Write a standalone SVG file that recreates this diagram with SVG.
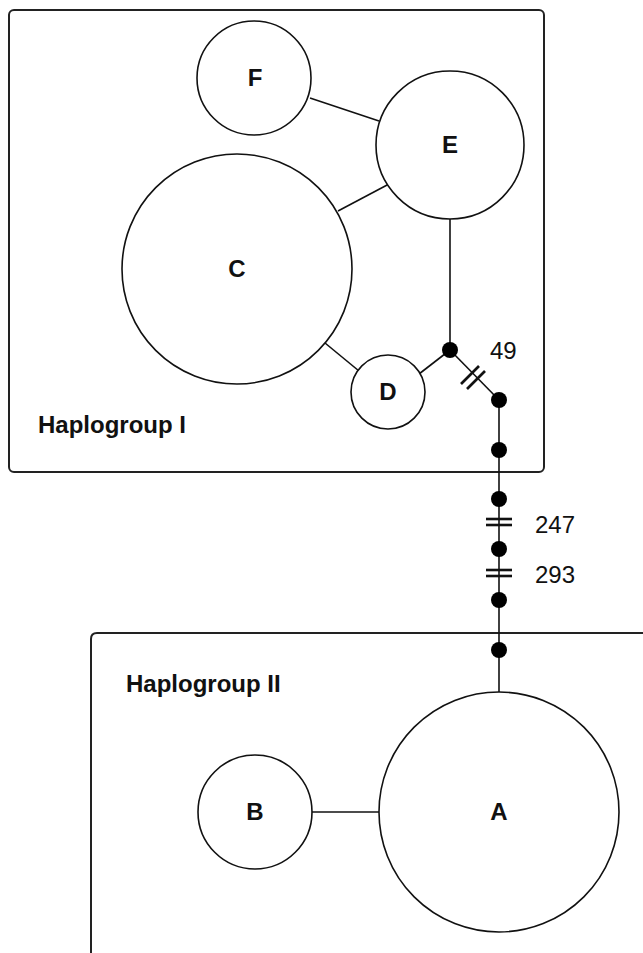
<svg xmlns="http://www.w3.org/2000/svg" width="643" height="953" viewBox="0 0 643 953">
<style>
.box{fill:none;stroke:#222;stroke-width:2}
.node{fill:#fff;stroke:#111;stroke-width:1.6}
.edge{stroke:#111;stroke-width:1.6;fill:none}
.hatch{stroke:#111;stroke-width:2.6}
.dot{fill:#000}
.lbl{font-family:"Liberation Sans",Arial,sans-serif;font-weight:bold;font-size:24px;fill:#111;text-anchor:middle}
.grp{font-family:"Liberation Sans",Arial,sans-serif;font-weight:bold;font-size:24px;fill:#111}
.num{font-family:"Liberation Sans",Arial,sans-serif;font-size:24px;fill:#111}
</style>
<rect width="643" height="953" fill="#fff"/>
<g id="haplogroup-I">
<rect class="box" x="9" y="10" width="535" height="462" rx="5"/>
<text class="grp" x="38" y="433">Haplogroup I</text>
</g>
<g id="haplogroup-II">
<path class="box" d="M91,960 V639 Q91,633 97,633 H650"/>
<text class="grp" x="126" y="692">Haplogroup II</text>
</g>
<g id="connectors">
<line class="edge" x1="310" y1="98" x2="379" y2="121"/>
<line class="edge" x1="338" y1="211" x2="389" y2="184"/>
<line class="edge" x1="450" y1="219" x2="450" y2="350"/>
<line class="edge" x1="325" y1="343" x2="359" y2="371"/>
<line class="edge" x1="419" y1="374" x2="450" y2="350"/>
<line class="edge" x1="450" y1="350" x2="499" y2="400"/>
<line class="edge" x1="499" y1="400" x2="499" y2="692"/>
<line class="edge" x1="312" y1="812" x2="379" y2="812"/>
<line class="hatch" x1="461" y1="384" x2="479" y2="366"/>
<line class="hatch" x1="467" y1="389" x2="485" y2="371"/>
<line class="hatch" x1="486" y1="519" x2="512" y2="519"/>
<line class="hatch" x1="486" y1="525" x2="512" y2="525"/>
<line class="hatch" x1="486" y1="570" x2="512" y2="570"/>
<line class="hatch" x1="486" y1="576" x2="512" y2="576"/>
</g>
<g id="node-F"><circle class="node" cx="254" cy="78" r="57"/><text class="lbl" x="255" y="86">F</text></g>
<g id="node-E"><circle class="node" cx="450" cy="145" r="74"/><text class="lbl" x="450" y="153">E</text></g>
<g id="node-C"><circle class="node" cx="237" cy="269" r="115"/><text class="lbl" x="237" y="277">C</text></g>
<g id="node-D"><circle class="node" cx="388" cy="392" r="37"/><text class="lbl" x="388" y="400">D</text></g>
<g id="node-B"><circle class="node" cx="255" cy="812" r="57"/><text class="lbl" x="255" y="820">B</text></g>
<g id="node-A"><circle class="node" cx="499" cy="812" r="120"/><text class="lbl" x="499" y="820">A</text></g>
<g id="median-vectors">
<circle class="dot" cx="450" cy="350" r="8"/>
<circle class="dot" cx="499" cy="400" r="8"/>
<circle class="dot" cx="499" cy="450" r="8"/>
<circle class="dot" cx="499" cy="499" r="8"/>
<circle class="dot" cx="499" cy="549" r="8"/>
<circle class="dot" cx="499" cy="600" r="8"/>
<circle class="dot" cx="499" cy="650" r="8"/>
</g>
<g id="labels">
<text class="num" x="490" y="359">49</text>
<text class="num" x="535" y="533">247</text>
<text class="num" x="535" y="583">293</text>
</g>
</svg>
